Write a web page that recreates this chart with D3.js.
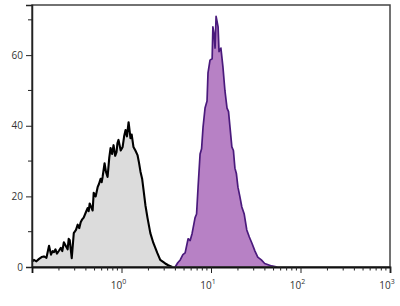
<!DOCTYPE html>
<html>
<head>
<meta charset="utf-8">
<script src="https://cdn.jsdelivr.net/npm/d3@7"></script>
<style>
  body { margin: 0; background: #fff; }
  text { font-family: "Open Sans", sans-serif; }
</style>
</head>
<body>
<div id="chart"></div>
<script>
// isotype control (grey) — fluorescence intensity and event count
const grayX = [0.1, 0.105, 0.112, 0.12, 0.128, 0.136, 0.145, 0.155, 0.163, 0.17, 0.176, 0.183, 0.19, 0.2, 0.21, 0.218, 0.227, 0.238, 0.25, 0.257, 0.264, 0.278, 0.293, 0.31, 0.324, 0.337, 0.35, 0.364, 0.378, 0.4, 0.419, 0.43, 0.441, 0.476, 0.489, 0.515, 0.541, 0.56, 0.584, 0.6, 0.615, 0.647, 0.67, 0.699, 0.73, 0.755, 0.785, 0.815, 0.85, 0.88, 0.9, 0.926, 0.98, 1.03, 1.07, 1.11, 1.15, 1.2, 1.26, 1.3, 1.36, 1.43, 1.51, 1.57, 1.63, 1.7, 1.76, 1.85, 1.95, 2.1, 2.27, 2.51, 2.71, 3.08, 3.33, 3.69];
const grayY = [1.5, 2, 1.6, 2.3, 2.8, 3, 2.6, 6, 3.5, 4.5, 4.2, 5, 3.8, 4.6, 5.4, 4.5, 7, 6, 5, 8, 7.6, 2.5, 9.6, 10.5, 12, 11, 12.7, 13.5, 14, 15.5, 16.7, 15.8, 18, 16, 21, 20, 22.6, 23.5, 25, 24, 25.5, 29.4, 27, 25.5, 31, 33.7, 32, 34.5, 31.5, 32.5, 35, 36, 33, 34, 37, 38.8, 37, 41, 36.5, 37.5, 34, 33, 31.7, 29.5, 27, 25, 22, 17.5, 14, 9.6, 6.8, 4, 2, 1, 0.5, 0];

// stained sample (purple)
const purpleX = [3.98, 4.25, 4.53, 4.85, 5.14, 5.55, 5.85, 6.15, 6.64, 6.9, 7.17, 7.55, 7.85, 8.15, 8.58, 9.03, 9.26, 9.75, 10.3, 10.5, 10.8, 11.1, 11.4, 12.0, 12.3, 12.9, 13.6, 14.3, 15.1, 15.7, 16.3, 17.1, 17.8, 18.5, 19.2, 20.0, 21.0, 22.1, 23.5, 25.1, 26.8, 28.6, 31, 33.3, 36.5, 39.8, 47.6, 55];
const purpleY = [0, 1.2, 2, 3.5, 4, 8, 7.5, 9.5, 14, 15, 22.6, 32, 33.5, 39.6, 45, 47, 55, 58.6, 59, 68, 66, 62, 71, 68, 61, 62, 56.6, 50, 45, 44, 39.6, 34, 33, 28, 26.5, 22.6, 20, 17, 15, 10.5, 8.5, 6.8, 4.5, 2.8, 2, 1, 0.3, 0];

const yTicks = [0, 20, 40, 60];
const yMinor = [10, 30, 50, 70];
const xTicks = [1, 10, 100, 1000];

const w = 400, h = 306;
const padL = 32, padR = 390, padT = 5, padB = 267;

const x = d3.scaleLog().domain([0.1, 1000]).range([padL, padR]);
const y = d3.scaleLinear().domain([0, 74.2]).range([padB, padT]);

const svg = d3.select("#chart").append("svg")
    .attr("width", w)
    .attr("height", h);

const area = d3.area()
    .x(d => x(d[0]))
    .y0(y(0))
    .y1(d => y(d[1]));

const line = d3.line()
    .x(d => x(d[0]))
    .y(d => y(d[1]));

const gray = grayX.map((v, i) => [v, grayY[i]]);
const purple = purpleX.map((v, i) => [v, purpleY[i]]);

svg.append("path").datum(gray)
    .attr("d", area)
    .attr("fill", "#dcdcdc");
svg.append("path").datum(gray)
    .attr("d", line)
    .attr("fill", "none")
    .attr("stroke", "#000")
    .attr("stroke-width", 2.1)
    .attr("stroke-linejoin", "round");

svg.append("path").datum(purple)
    .attr("d", area)
    .attr("fill", "#b781c5");
svg.append("path").datum(purple)
    .attr("d", line)
    .attr("fill", "none")
    .attr("stroke", "#4a1a7c")
    .attr("stroke-width", 1.7)
    .attr("stroke-linejoin", "round");

// frame
svg.append("rect")
    .attr("x", padL)
    .attr("y", padT)
    .attr("width", padR - padL)
    .attr("height", padB - padT)
    .attr("fill", "none")
    .attr("stroke", "#444")
    .attr("stroke-width", 1.5);

// y axis
const yAxis = d3.axisLeft(y).tickValues(yTicks).tickSize(6).tickPadding(3);
const gy = svg.append("g")
    .attr("transform", "translate(" + padL + ",0)")
    .call(yAxis);
gy.select(".domain").attr("stroke", "#222").attr("stroke-width", 1.5);
gy.selectAll(".tick line").attr("stroke", "#222");
gy.selectAll("text").attr("font-size", 10).attr("fill", "#333");
gy.selectAll(".minor").data(yMinor).enter().append("line")
    .attr("x1", -4).attr("x2", 0)
    .attr("y1", d => y(d)).attr("y2", d => y(d))
    .attr("stroke", "#222");

// x axis
const xMinor = [];
[0.1, 1, 10, 100].forEach(p => {
    for (let k = 2; k < 10; k++) xMinor.push(p * k);
});
const xAxis = d3.axisBottom(x).tickValues(xTicks).tickSize(6).tickFormat("");
const gx = svg.append("g")
    .attr("transform", "translate(0," + padB + ")")
    .call(xAxis);
gx.select(".domain").attr("stroke", "#111").attr("stroke-width", 1.8);
gx.selectAll(".tick line").attr("stroke", "#222");
gx.selectAll(".minor").data(xMinor).enter().append("line")
    .attr("x1", d => x(d)).attr("x2", d => x(d))
    .attr("y1", 0).attr("y2", 3.5)
    .attr("stroke", "#222");

const lbl = gx.selectAll(".lbl").data(xTicks).enter().append("text")
    .attr("x", d => x(d) - 3)
    .attr("y", 22)
    .attr("text-anchor", "middle")
    .attr("font-size", 10)
    .attr("fill", "#333");
lbl.append("tspan").text("10");
lbl.append("tspan")
    .attr("dy", -5)
    .attr("font-size", 7)
    .text(d => Math.round(Math.log10(d)));
</script>
</body>
</html>
